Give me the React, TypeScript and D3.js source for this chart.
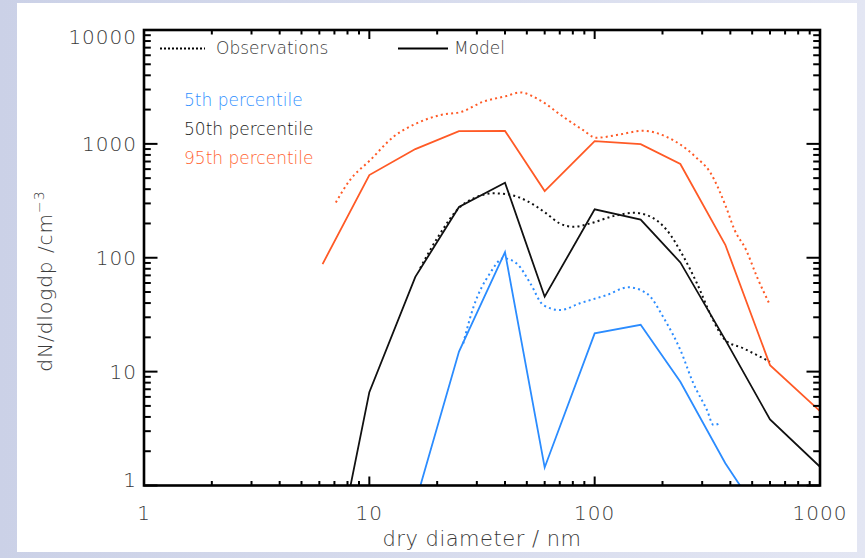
import React, { useEffect, useRef } from 'react';
import * as d3 from 'd3';

// model size bins (nm) and percentiles
const modelDiam = [6.2, 10, 16, 25, 40, 60, 100, 160, 240, 380, 600, 1000];
const model5 = [null, null, 0.7, 15, 112, 1.44, 21.7, 25.8, 8.15, 1.57, 0.4, null];
const model50 = [0.06, 6.6, 68, 279, 456, 45.5, 266, 216, 91, 19, 3.8, 1.46];
const model95 = [88, 532, 900, 1295, 1300, 385, 1058, 995, 665, 130, 11.4, 4.5];

// observations (dotted)
const obs5Diam = [26.1, 29, 34.3, 39.4, 45.1, 51.7, 59.2, 70.2, 86, 113, 141, 170, 205, 240, 274, 315, 337, 363];
const obs5 = [17.7, 37, 73, 99, 89, 60, 38.4, 34.7, 39.8, 47, 55, 48.7, 28.4, 15.5, 7.9, 4.6, 3.4, 3.56];
const obs50Diam = [16.8, 20.2, 25.3, 29, 35.5, 40.7, 50, 61, 70, 80.5, 95.5, 121, 149, 170, 209, 248, 284, 331, 379, 457, 600];
const obs50 = [81, 153, 280, 332, 368, 362, 316, 245, 200, 187, 200, 232, 248, 237, 175, 102, 60, 30, 19, 16, 12.2];
const obs95Diam = [7.1, 8.2, 10.1, 12.8, 16.2, 20.6, 25.7, 32, 40.6, 46.6, 57, 72.5, 89, 101.5, 125, 164, 208, 282, 325, 380, 418, 470, 525, 600];
const obs95 = [306, 481, 721, 1155, 1513, 1790, 1915, 2345, 2630, 2830, 2425, 1730, 1320, 1130, 1195, 1302, 1155, 761, 565, 290, 175, 117, 68, 38.4];

const xTickLabels = ['1', '10', '100', '1000'];
const yTickLabels = ['1', '10', '100', '1000', '10000'];
const percentileLabels = ['5th percentile', '50th percentile', '95th percentile'];

const BLUE = '#2b8cff';
const BLACK = '#111';
const ORANGE = '#ff5a26';
const FONT = '"DejaVu Sans", sans-serif';

const X0 = 144, X1 = 820, Y0 = 30, Y1 = 485.5;

function SizeDistChart() {
  const svgRef = useRef<SVGSVGElement>(null);

  useEffect(() => {
    const svg = d3.select(svgRef.current);
    svg.selectAll('*').remove();

    const x = d3.scaleLog().domain([1, 1000]).range([X0, X1]);
    const y = d3.scaleLog().domain([1, 10000]).range([Y1, Y0]);

    // page frame
    const defs = svg.append('defs');
    const grad = defs.append('linearGradient').attr('id', 'bg').attr('x1', 0).attr('x2', 1).attr('y1', 0).attr('y2', 0);
    grad.append('stop').attr('offset', '0%').attr('stop-color', '#cbd1e7');
    grad.append('stop').attr('offset', '100%').attr('stop-color', '#e3e6f3');
    defs.append('clipPath').attr('id', 'plotclip')
      .append('rect').attr('x', X0).attr('y', Y0).attr('width', X1 - X0).attr('height', Y1 - Y0);

    svg.append('rect').attr('width', 865).attr('height', 558).attr('fill', 'url(#bg)');
    svg.append('rect').attr('x', 17).attr('y', 3).attr('width', 840).attr('height', 549).attr('fill', '#fff');

    // curves
    const g = svg.append('g').attr('clip-path', 'url(#plotclip)');
    const solid = d3.line<[number, number | null]>()
      .defined(d => d[1] != null)
      .x(d => x(d[0]))
      .y(d => y(d[1] as number));
    const smooth = d3.line<[number, number]>()
      .x(d => x(d[0]))
      .y(d => y(d[1]))
      .curve(d3.curveMonotoneX);

    const obsSeries = [
      { d: obs95Diam, v: obs95, c: ORANGE },
      { d: obs50Diam, v: obs50, c: BLACK },
      { d: obs5Diam, v: obs5, c: BLUE },
    ];
    obsSeries.forEach(s => {
      g.append('path')
        .attr('d', smooth(s.d.map((dd, i) => [dd, s.v[i]] as [number, number])))
        .attr('fill', 'none')
        .attr('stroke', s.c)
        .attr('stroke-width', 2)
        .attr('stroke-dasharray', '2,3.2');
    });

    const modelSeries = [
      { v: model95, c: ORANGE },
      { v: model50, c: BLACK },
      { v: model5, c: BLUE },
    ];
    modelSeries.forEach(s => {
      g.append('path')
        .attr('d', solid(modelDiam.map((dd, i) => [dd, s.v[i]] as [number, number | null])))
        .attr('fill', 'none')
        .attr('stroke', s.c)
        .attr('stroke-width', 1.8)
        .attr('stroke-linejoin', 'miter');
    });

    // axes box + inward ticks
    const ax = svg.append('g').attr('stroke', '#000');
    const xt = x.ticks();
    const yt = y.ticks();
    const isMajor = (v: number) => Math.abs(Math.log10(v) - Math.round(Math.log10(v))) < 1e-6;

    xt.forEach(v => {
      const len = isMajor(v) ? 9 : 4.5;
      ax.append('line').attr('x1', x(v)).attr('x2', x(v)).attr('y1', Y1).attr('y2', Y1 - len).attr('stroke-width', 2);
      ax.append('line').attr('x1', x(v)).attr('x2', x(v)).attr('y1', Y0).attr('y2', Y0 + len).attr('stroke-width', 2);
    });
    yt.forEach(v => {
      const len = isMajor(v) ? 13.5 : 6.8;
      ax.append('line').attr('y1', y(v)).attr('y2', y(v)).attr('x1', X0).attr('x2', X0 + len).attr('stroke-width', 2);
      ax.append('line').attr('y1', y(v)).attr('y2', y(v)).attr('x1', X1).attr('x2', X1 - len).attr('stroke-width', 2);
    });
    ax.append('rect').attr('x', X0).attr('y', Y0).attr('width', X1 - X0).attr('height', Y1 - Y0)
      .attr('fill', 'none').attr('stroke-width', 2.6);

    // tick labels
    const txt = svg.append('g').attr('font-family', FONT).attr('font-weight', 200).attr('fill', '#3a3a3a');
    xTickLabels.forEach(t => {
      txt.append('text').attr('x', x(+t)).attr('y', 520).attr('text-anchor', 'middle')
        .attr('font-size', 20).attr('letter-spacing', 1).text(t);
    });
    yTickLabels.forEach(t => {
      const yy = Math.min(Math.max(y(+t) + 7.5, Y0 + 14), Y1 + 1);
      txt.append('text').attr('x', 137).attr('y', yy).attr('text-anchor', 'end')
        .attr('font-size', 20).attr('letter-spacing', 1).text(t);
    });

    // axis titles
    txt.append('text').attr('x', (X0 + X1) / 2).attr('y', 546).attr('text-anchor', 'middle')
      .attr('font-size', 21).attr('letter-spacing', 0.5).text('dry diameter / nm');
    const yl = txt.append('text').attr('transform', 'translate(52,281) rotate(-90)')
      .attr('text-anchor', 'middle').attr('font-size', 20).attr('letter-spacing', 1);
    yl.append('tspan').text('dN/dlogdp  /cm');
    yl.append('tspan').attr('dy', -8).attr('font-size', 14).text('\u22123');

    // legend
    svg.append('line').attr('x1', 160).attr('x2', 205).attr('y1', 48.5).attr('y2', 48.5)
      .attr('stroke', '#000').attr('stroke-width', 2).attr('stroke-dasharray', '2,2');
    svg.append('line').attr('x1', 398).attr('x2', 448).attr('y1', 48.5).attr('y2', 48.5)
      .attr('stroke', '#000').attr('stroke-width', 2.2);
    txt.append('text').attr('x', 216).attr('y', 53.5).attr('font-size', 17).text('Observations');
    txt.append('text').attr('x', 454).attr('y', 53.5).attr('font-size', 17).text('Model');

    const labColors = ['#2f8fff', '#1a1a1a', '#ff6330'];
    percentileLabels.forEach((t, i) => {
      svg.append('text').attr('x', 184).attr('y', 106 + i * 29.2)
        .attr('font-family', FONT).attr('font-weight', 200).attr('font-size', 17)
        .attr('fill', labColors[i]).text(t);
    });
  }, []);

  return (
    <svg ref={svgRef} width={865} height={558}
      style={{ position: 'absolute', left: 0, top: 0, display: 'block' }} />
  );
}

export default function App() {
  return <SizeDistChart />;
}
